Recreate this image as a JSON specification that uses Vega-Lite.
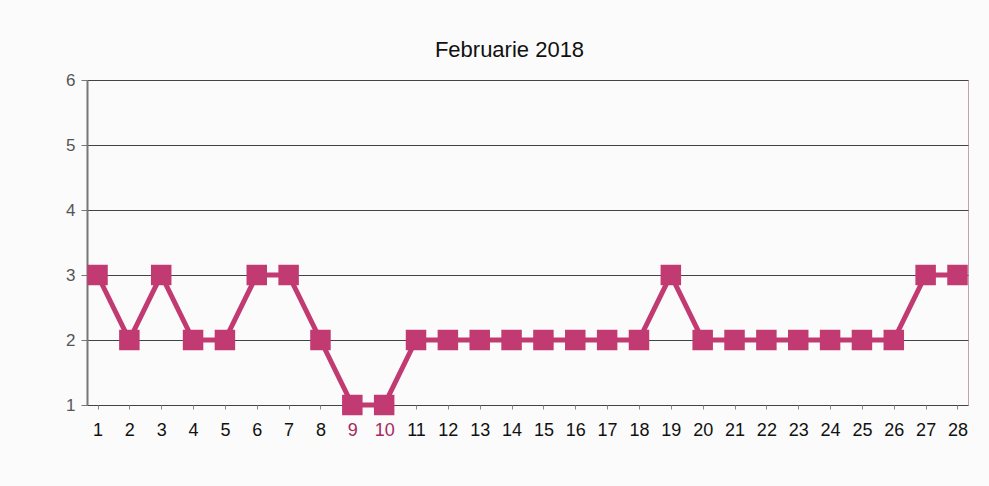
{
  "$schema": "https://vega.github.io/schema/vega-lite/v6.json",
  "autosize": "none",
  "width": 881,
  "height": 325,
  "padding": {"left": 87, "top": 80, "right": 21, "bottom": 81},
  "background": "#fbfbfb",
  "title": {"text": "Februarie 2018", "fontSize": 22, "font": "Liberation Sans", "fontWeight": "normal", "color": "#111", "offset": 9, "dx": -18},
  "data": {"values": [
    {"zi": 1, "v": 3}, {"zi": 2, "v": 2}, {"zi": 3, "v": 3}, {"zi": 4, "v": 2},
    {"zi": 5, "v": 2}, {"zi": 6, "v": 3}, {"zi": 7, "v": 3}, {"zi": 8, "v": 2},
    {"zi": 9, "v": 1}, {"zi": 10, "v": 1}, {"zi": 11, "v": 2}, {"zi": 12, "v": 2},
    {"zi": 13, "v": 2}, {"zi": 14, "v": 2}, {"zi": 15, "v": 2}, {"zi": 16, "v": 2},
    {"zi": 17, "v": 2}, {"zi": 18, "v": 2}, {"zi": 19, "v": 3}, {"zi": 20, "v": 2},
    {"zi": 21, "v": 2}, {"zi": 22, "v": 2}, {"zi": 23, "v": 2}, {"zi": 24, "v": 2},
    {"zi": 25, "v": 2}, {"zi": 26, "v": 2}, {"zi": 27, "v": 3}, {"zi": 28, "v": 3}
  ]},
  "encoding": {
    "x": {"field": "zi", "type": "ordinal", "scale": {"type": "point", "padding": 0.33},
      "axis": {"title": null, "labelAngle": 0, "labelFontSize": 18, "labelFont": "Liberation Sans", "labelPadding": 12,
        "labelColor": {"condition": {"test": "datum.value == 9 || datum.value == 10", "value": "#a8285f"}, "value": "#111"},
        "grid": false, "domain": false, "ticks": true, "tickColor": "#888", "tickSize": 4}},
    "y": {"field": "v", "type": "quantitative", "scale": {"domain": [1, 6], "nice": false, "zero": false},
      "axis": {"title": null, "values": [1, 2, 3, 4, 5, 6], "labelFontSize": 17, "labelFont": "Liberation Sans", "labelColor": "#555", "labelPadding": 6,
        "grid": true, "gridColor": "#444", "gridWidth": 1, "domain": true, "domainColor": "#777", "domainWidth": 2, "tickColor": "#777", "tickSize": 6}}
  },
  "layer": [
    {"mark": {"type": "line", "color": "#c23a72", "strokeWidth": 5}},
    {"mark": {"type": "square", "color": "#c23a72", "opacity": 1, "size": 420, "filled": true}}
  ],
  "config": {"view": {"stroke": "#c8a0b0", "strokeWidth": 1}}
}
